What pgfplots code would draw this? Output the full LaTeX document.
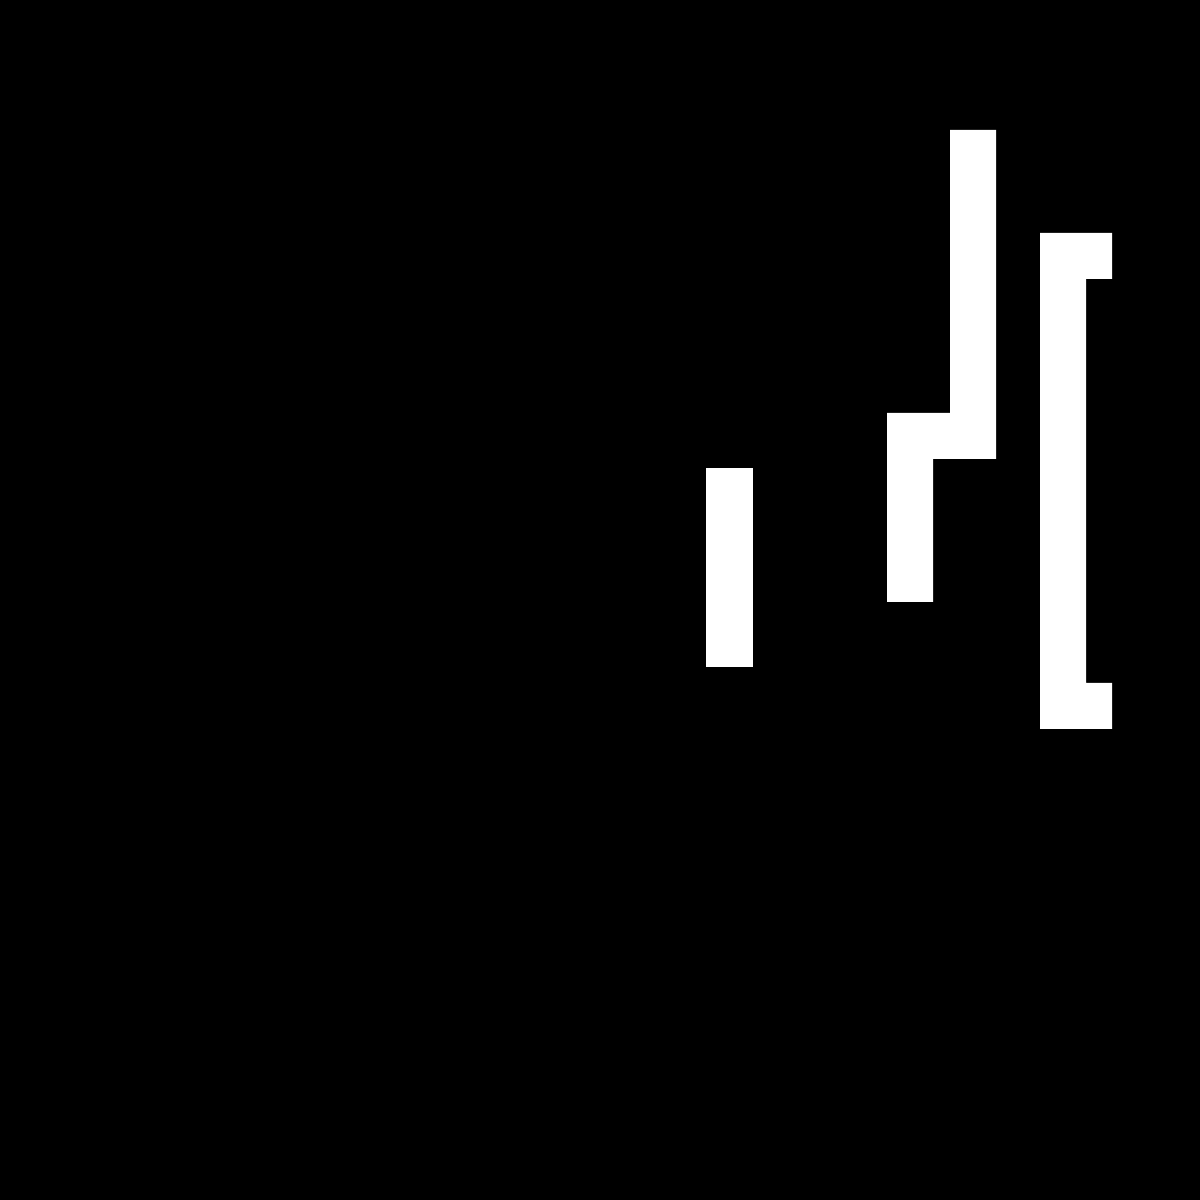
\documentclass[border=0pt]{standalone}
\usepackage{pgfplots}
\pgfplotsset{compat=1.18}
\begin{document}
\begin{tikzpicture}
\begin{axis}[width=10cm,height=10cm,scale only axis,hide axis,
  xmin=0,xmax=1200,ymin=0,ymax=1200,y dir=reverse,clip=true]
\addplot[fill=black,draw=none] coordinates {(0,0)(1200,0)(1200,1200)(0,1200)} -- cycle;
\addplot[fill=white,draw=none] coordinates {(706,468)(753,468)(753,667)(706,667)} -- cycle;
\addplot[fill=white,draw=none] coordinates {(950,130)(996,130)(996,459)(933,459)(933,602)(887,602)(887,413)(950,413)} -- cycle;
\addplot[fill=white,draw=none] coordinates {(1040,233)(1112,233)(1112,279)(1086,279)(1086,683)(1112,683)(1112,729)(1040,729)} -- cycle;
\end{axis}
\end{tikzpicture}
\end{document}
